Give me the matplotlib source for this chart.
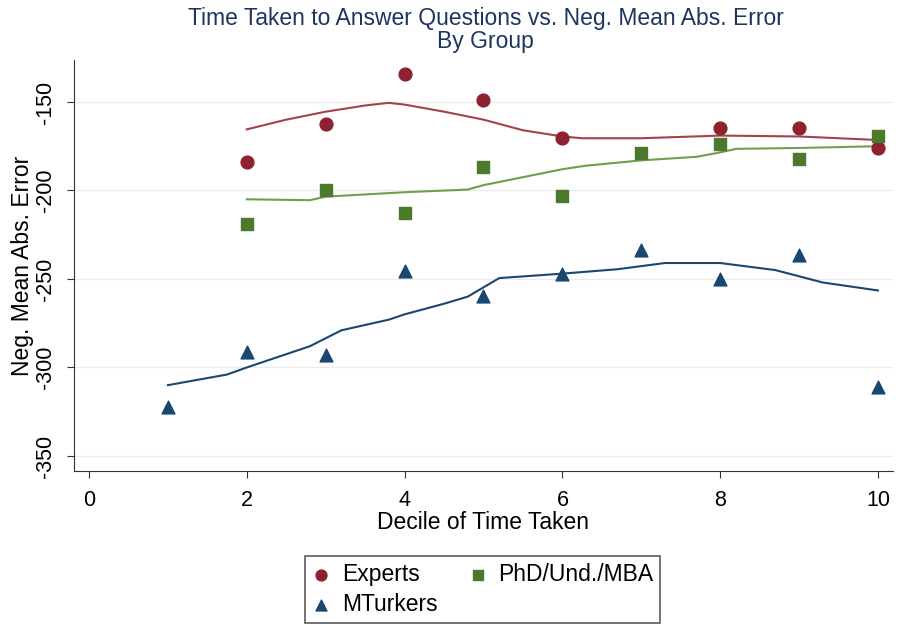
import matplotlib.pyplot as plt

plt.rcParams['font.family'] = ['Liberation Sans', 'DejaVu Sans']
plt.rcParams['axes.unicode_minus'] = False

# scatter points (decile, neg. mean abs. error)
expert_x = [2, 3, 4, 5, 6, 8, 9, 10]
expert_y = [-184, -162.5, -134, -149, -170.5, -164.5, -164.5, -176]
phd_x = [2, 3, 4, 5, 6, 7, 8, 9, 10]
phd_y = [-219, -200, -212.5, -186.5, -203, -179, -173.5, -182, -169.5]
mturk_x = [1, 2, 3, 4, 5, 6, 7, 8, 9, 10]
mturk_y = [-322.5, -291, -293, -245.5, -259.5, -247, -233.5, -250, -236.5, -311]

# smoothed lines
expert_lx = [2, 2.5, 3, 3.5, 3.8, 4, 4.5, 5, 5.5, 6, 6.25, 7, 8, 9, 10]
expert_ly = [-165.5, -160, -155.5, -152, -150.5, -151.5, -155.5, -160, -166, -169.5, -170.5, -170.5, -169, -169.5, -171.5]
phd_lx = [2, 2.8, 3, 4, 4.8, 5, 5.5, 6, 6.3, 7, 7.7, 8, 8.2, 9, 10]
phd_ly = [-205, -205.5, -203.5, -201, -199.5, -197, -192.5, -188, -186, -183, -181, -178.5, -176.5, -176, -175]
mturk_lx = [1, 1.75, 2, 2.8, 3.2, 3.8, 4, 4.5, 4.8, 5.2, 6, 6.7, 7.3, 8, 8.7, 9.3, 10]
mturk_ly = [-310, -304, -300, -288, -279, -273, -270, -264, -260, -249.5, -247, -244.5, -241, -241, -245, -252, -256.5]

red = '#8E2231'
green = '#4C7A2C'
navy = '#1A476F'

fig = plt.figure(figsize=(8.99, 6.25), dpi=100)
ax = fig.add_axes([74 / 899, 1 - 471 / 625, (893 - 74) / 899, (471 - 60) / 625])

# lines
ax.plot(expert_lx, expert_ly, color='#A0434D', lw=1.5, zorder=2)
ax.plot(phd_lx, phd_ly, color='#6F9E4C', lw=1.5, zorder=2)
ax.plot(mturk_lx, mturk_ly, color=navy, lw=1.5, zorder=2)

# points
ax.scatter(expert_x, expert_y, marker='o', s=85, color=red, label='Experts', zorder=3)
ax.scatter(mturk_x, mturk_y, marker='^', s=85, color=navy, label='MTurkers', zorder=3)
ax.scatter(phd_x, phd_y, marker='s', s=75, color=green, label='PhD/Und./MBA', zorder=3)

ax.set_xlim(-0.19, 10.19)
ax.set_ylim(-358.5, -126.3)
ax.set_xticks([0, 2, 4, 6, 8, 10])
ax.set_yticks([-350, -300, -250, -200, -150])
ax.grid(axis='y', color='#EBEBEB', lw=1)
ax.set_axisbelow(True)
for s in ['top', 'right']:
    ax.spines[s].set_visible(False)
for s in ['left', 'bottom']:
    ax.spines[s].set_color('#333333')
ax.tick_params(labelsize=15.5, length=5, color='#333333')
ax.tick_params(axis='x', pad=9)
ax.tick_params(axis='y', pad=8)
plt.setp(ax.get_yticklabels(), rotation=90, va='center')

ax.set_xlabel('Decile of Time Taken', fontsize=16.5, labelpad=0)
ax.set_ylabel('Neg. Mean Abs. Error', fontsize=16.5, labelpad=1)
fig.text(0.540, 0.952, 'Time Taken to Answer Questions vs. Neg. Mean Abs. Error\nBy Group',
         ha='center', va='center', fontsize=16.5, color='#1E3560', linespacing=1.0)

# legend: Experts, PhD on row 1, MTurkers on row 2
h, l = ax.get_legend_handles_labels()
leg = fig.legend(h, l, ncol=2,
                 loc='center', bbox_to_anchor=(0.537, 0.057), fontsize=16.5,
                 frameon=True, fancybox=False, edgecolor='#333333',
                 handletextpad=0.5, columnspacing=1.35, labelspacing=0.3,
                 borderpad=0.3, markerscale=0.85, handlelength=0.8)
leg.get_frame().set_linewidth(1.2)
fig.savefig('out.png')
